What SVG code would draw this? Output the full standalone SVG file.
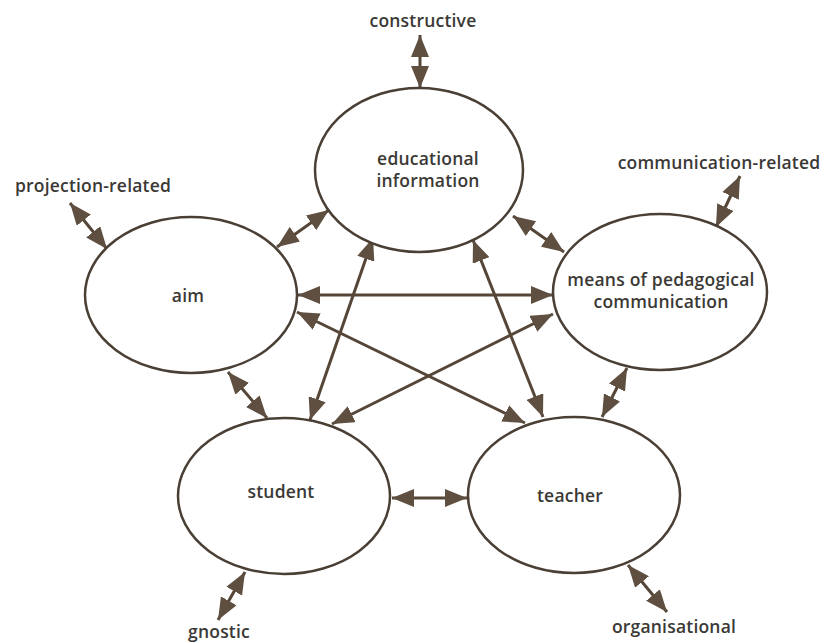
<svg xmlns="http://www.w3.org/2000/svg" width="828" height="643" viewBox="0 0 828 643">
<defs>
<marker id="ah" viewBox="0 0 22 18" refX="22" refY="9" markerWidth="22" markerHeight="18" markerUnits="userSpaceOnUse" orient="auto-start-reverse">
<path d="M0,0 L22,9 L0,18 z" fill="#5e4f40"/>
</marker>
<style>
.n ellipse{fill:#fff;stroke:#4a3f35;stroke-width:2.5}
text{font-family:"Open Sans","DejaVu Sans",sans-serif;font-size:17.5px;font-weight:600;fill:#3b3935;text-anchor:middle;letter-spacing:0.2px}
.c line{stroke:#554638;stroke-width:3;marker-start:url(#ah);marker-end:url(#ah)}
</style>
</defs>
<rect width="828" height="643" fill="#fff"/>
<g class="c" id="connectors">
<line x1="420" y1="35" x2="420" y2="88"/>
<line x1="70" y1="203" x2="107" y2="249"/>
<line x1="277" y1="247" x2="329" y2="210"/>
<line x1="228" y1="372" x2="267" y2="418"/>
<line x1="513" y1="216" x2="564" y2="252"/>
<line x1="740" y1="176" x2="716" y2="227"/>
<line x1="627" y1="368" x2="602" y2="417"/>
<line x1="298" y1="295" x2="553" y2="295"/>
<line x1="297" y1="312" x2="525" y2="423"/>
<line x1="553" y1="314" x2="332" y2="424"/>
<line x1="373" y1="238" x2="310" y2="420"/>
<line x1="473" y1="240" x2="543" y2="417"/>
<line x1="392" y1="498" x2="467" y2="498"/>
<line x1="245" y1="572" x2="218" y2="620"/>
<line x1="628" y1="565" x2="667" y2="612"/>
</g>
<g class="n" id="educational-information">
<ellipse cx="419" cy="170" rx="104" ry="82"/>
<text x="428" y="165">educational</text>
<text x="428" y="187">information</text>
</g>
<g class="n" id="aim">
<ellipse cx="191" cy="295" rx="106" ry="78"/>
<text x="188" y="302">aim</text>
</g>
<g class="n" id="means">
<ellipse cx="660" cy="292" rx="107" ry="78"/>
<text x="661" y="286">means of pedagogical</text>
<text x="661" y="308">communication</text>
</g>
<g class="n" id="student">
<ellipse cx="284" cy="496" rx="106" ry="78"/>
<text x="281" y="498">student</text>
</g>
<g class="n" id="teacher">
<ellipse cx="574" cy="495" rx="106" ry="78"/>
<text x="570" y="502">teacher</text>
</g>
<g id="labels">
<text x="423" y="27">constructive</text>
<text x="93" y="192">projection-related</text>
<text x="719" y="169">communication-related</text>
<text x="219" y="638">gnostic</text>
<text x="674" y="633">organisational</text>
</g>
</svg>
